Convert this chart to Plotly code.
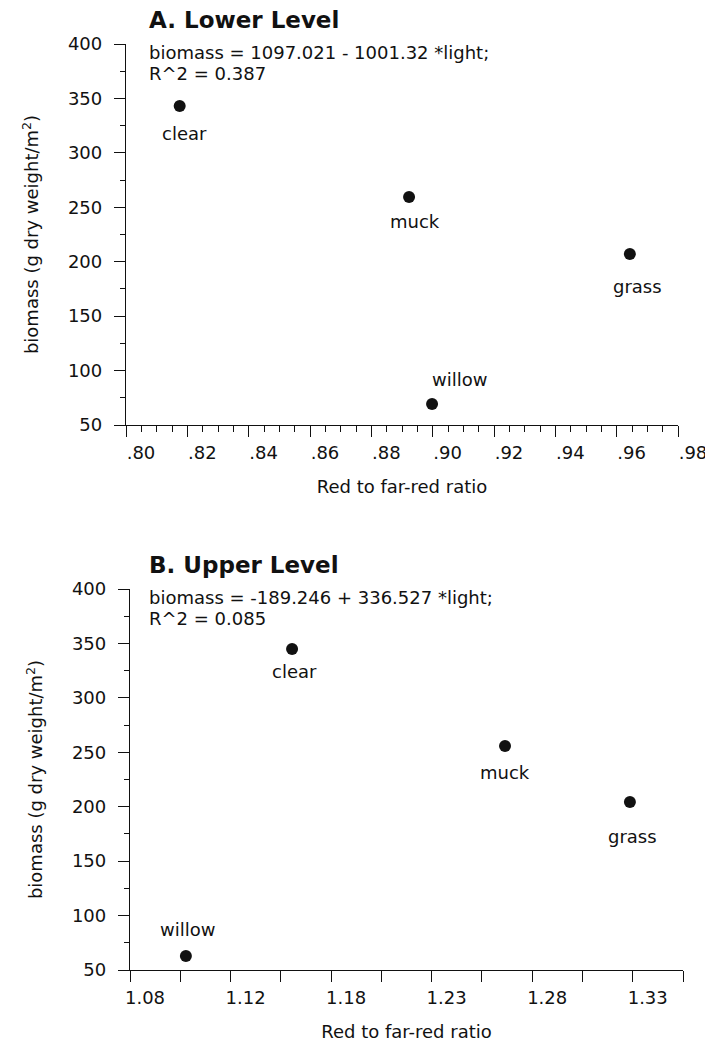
import plotly.graph_objects as go

# ---------------- data ----------------
sites = ["clear", "muck", "grass", "willow"]

lower_ratio = [0.8175, 0.8923, 0.9643, 0.8998]
lower_biomass = [343.0, 259.5, 207.0, 69.3]

upper_ratio = [1.1556, 1.2615, 1.3236, 1.1028]
upper_biomass = [344.9, 255.8, 204.3, 62.9]

lower_xtick_vals = [0.80, 0.82, 0.84, 0.86, 0.88, 0.90, 0.92, 0.94, 0.96, 0.98]
lower_xtick_text = [".80", ".82", ".84", ".86", ".88", ".90", ".92", ".94", ".96", ".98"]

upper_xtick_vals = [1.075, 1.10, 1.125, 1.15, 1.175, 1.20, 1.225, 1.25, 1.275, 1.30, 1.325, 1.35]
upper_xtick_text = ["1.08", "", "1.12", "", "1.18", "", "1.23", "", "1.28", "", "1.33", ""]

ytick_vals = [50, 100, 150, 200, 250, 300, 350, 400]

panel_titles = ["A. Lower Level", "B. Upper Level"]
panel_equations = [
    ["biomass = 1097.021 - 1001.32 *light;", "R^2 = 0.387"],
    ["biomass = -189.246 + 336.527 *light;", "R^2 = 0.085"],
]
x_title = "Red to far-red ratio"
y_title = "biomass (g dry weight/m<sup>2</sup>)"

# ---------------- style ----------------
FONT = "DejaVu Sans"
BLACK = "#111111"

# label offsets in pixels (xshift, yshift) per site
lower_label_offsets = {"clear": (5, -27), "muck": (6, -25), "grass": (8, -32), "willow": (27, 24)}
upper_label_offsets = {"clear": (2, -23), "muck": (0, -27), "grass": (3, -34), "willow": (2, 26)}

W, H = 705, 1044
ML, MR, MT, MB = 126, 22, 44, 74
PW = W - ML - MR
PH = H - MT - MB


def px_x(px):
    return (px - ML) / PW


def px_y(py):
    return (H - MB - py) / PH


fig = go.Figure()

fig.add_trace(go.Scatter(
    x=lower_ratio, y=lower_biomass, mode="markers",
    marker=dict(color=BLACK, size=12), xaxis="x", yaxis="y",
    showlegend=False, hoverinfo="skip"))
fig.add_trace(go.Scatter(
    x=upper_ratio, y=upper_biomass, mode="markers",
    marker=dict(color=BLACK, size=12), xaxis="x2", yaxis="y2",
    showlegend=False, hoverinfo="skip"))

annotations = []
for s, xv, yv in zip(sites, lower_ratio, lower_biomass):
    dx, dy = lower_label_offsets[s]
    annotations.append(dict(x=xv, y=yv, xref="x", yref="y", text=s, showarrow=False,
                            xshift=dx, yshift=dy, font=dict(family=FONT, size=18, color=BLACK)))
for s, xv, yv in zip(sites, upper_ratio, upper_biomass):
    dx, dy = upper_label_offsets[s]
    annotations.append(dict(x=xv, y=yv, xref="x2", yref="y2", text=s, showarrow=False,
                            xshift=dx, yshift=dy, font=dict(family=FONT, size=18, color=BLACK)))

title_py = [20, 565]
eq_py = [(52, 73), (597, 618)]
for i in range(2):
    annotations.append(dict(x=px_x(147), y=px_y(title_py[i]), xref="paper", yref="paper",
                            xanchor="left", yanchor="middle", text="<b>" + panel_titles[i] + "</b>",
                            showarrow=False, font=dict(family=FONT, size=23, color=BLACK)))
    for j in range(2):
        annotations.append(dict(x=px_x(147), y=px_y(eq_py[i][j]), xref="paper", yref="paper",
                                xanchor="left", yanchor="middle", text=panel_equations[i][j],
                                showarrow=False, font=dict(family=FONT, size=18, color=BLACK)))

axis_common = dict(
    showline=True, linecolor=BLACK, linewidth=1.3, showgrid=False, zeroline=False,
    ticks="outside", tickcolor=BLACK, tickwidth=1.3, ticklen=11, automargin=False,
    tickfont=dict(family=FONT, size=18, color=BLACK),
)

top_dom = [px_y(425), 1.0]
bot_dom = [0.0, px_y(589)]

fig.update_layout(
    width=W, height=H,
    margin=dict(l=ML, r=MR, t=MT, b=MB, autoexpand=False),
    paper_bgcolor="white", plot_bgcolor="white",
    font=dict(family=FONT, color=BLACK),
    xaxis=dict(**axis_common, domain=[0, px_x(678)], range=[0.80, 0.98], anchor="y",
               tickmode="array", tickvals=lower_xtick_vals, ticktext=lower_xtick_text,
               ticklabelshift=15, ticklabeloverflow="allow",
               minor=dict(tickmode="linear", tick0=0.80, dtick=0.005, ticks="outside",
                          ticklen=6, tickcolor=BLACK, tickwidth=1.3),
               title=dict(text=x_title, font=dict(family=FONT, size=18, color=BLACK), standoff=18)),
    yaxis=dict(**axis_common, domain=top_dom, range=[50, 400], anchor="x",
               tickmode="array", tickvals=ytick_vals, ticklabelstandoff=8,
               minor=dict(tickmode="linear", tick0=50, dtick=25, ticks="outside",
                          ticklen=5, tickcolor=BLACK, tickwidth=1.3),
               title=dict(text=y_title, font=dict(family=FONT, size=18, color=BLACK), standoff=24)),
    xaxis2=dict(**axis_common, domain=[px_x(130), 1.0], range=[1.075, 1.35], anchor="y2",
                tickmode="array", tickvals=upper_xtick_vals, ticktext=upper_xtick_text,
                ticklabelshift=15, ticklabeloverflow="allow",
                title=dict(text=x_title, font=dict(family=FONT, size=18, color=BLACK), standoff=18)),
    yaxis2=dict(**axis_common, domain=bot_dom, range=[50, 400], anchor="x2",
                tickmode="array", tickvals=ytick_vals, ticklabelstandoff=8,
                minor=dict(tickmode="linear", tick0=50, dtick=25, ticks="outside",
                           ticklen=5, tickcolor=BLACK, tickwidth=1.3),
                title=dict(text=y_title, font=dict(family=FONT, size=18, color=BLACK), standoff=24)),
    annotations=annotations,
)

fig.write_html("out.html")
